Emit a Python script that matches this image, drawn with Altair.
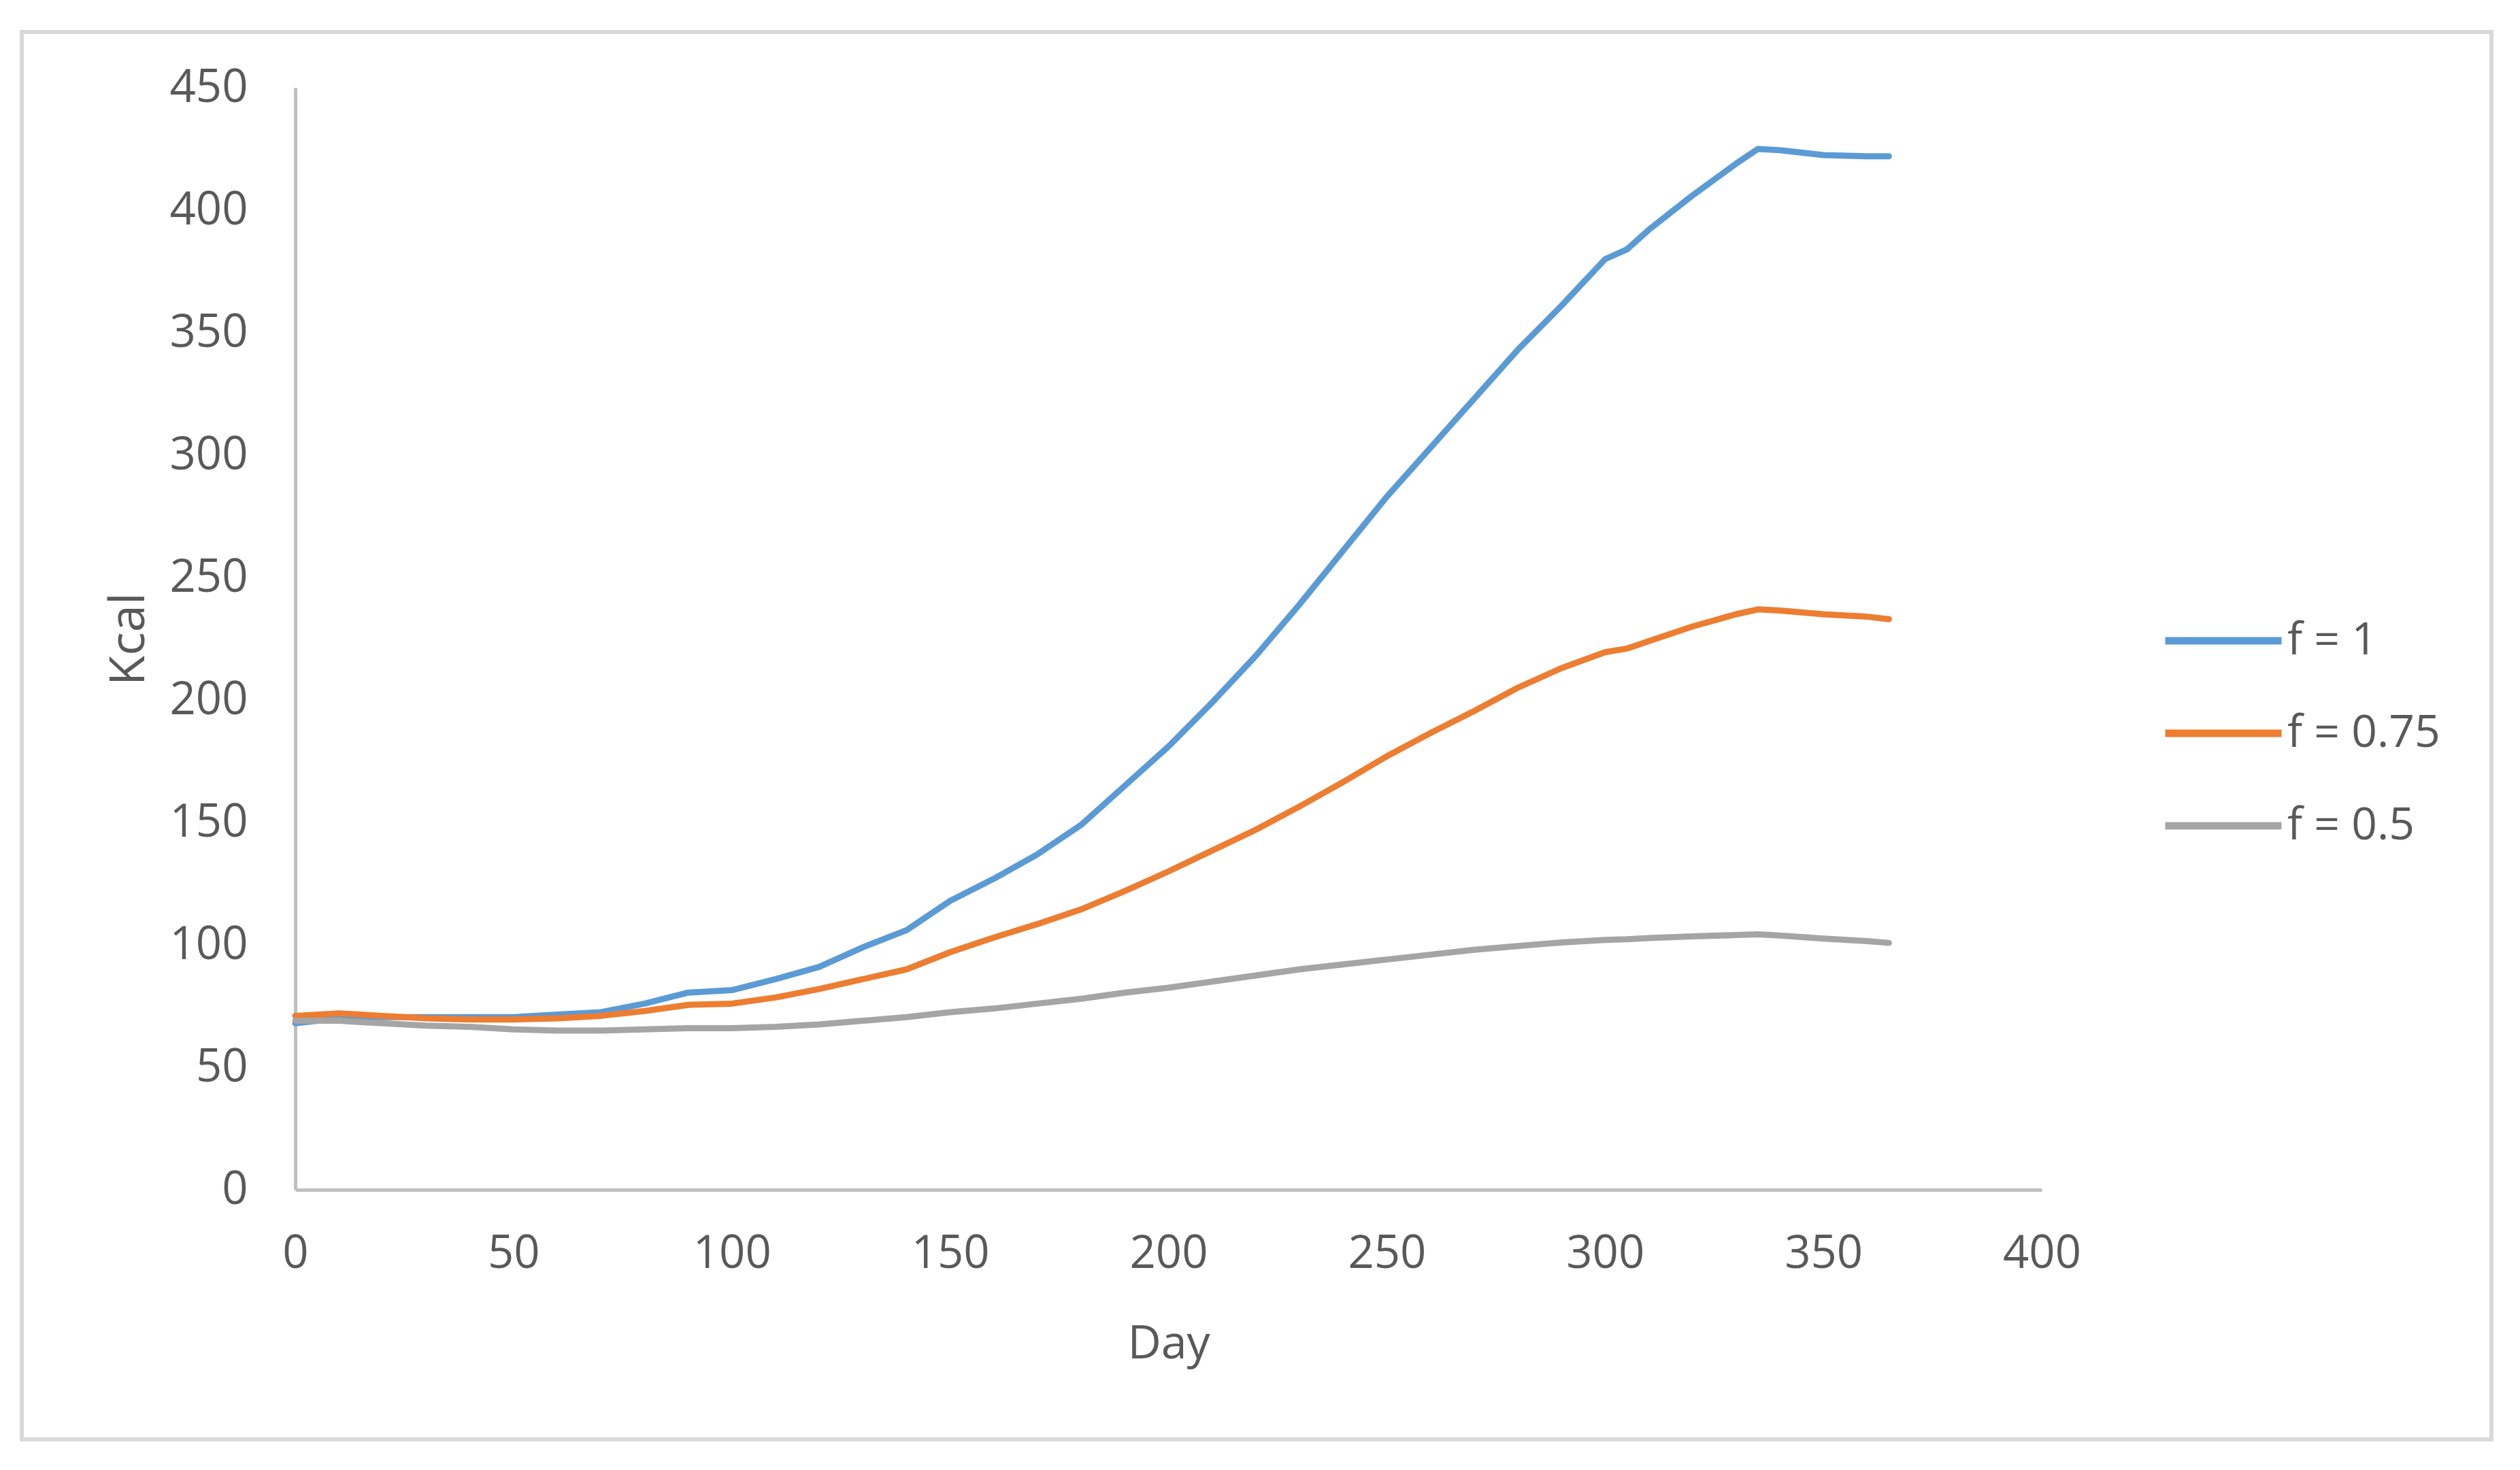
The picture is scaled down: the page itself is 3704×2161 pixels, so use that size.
import altair as alt
import pandas as pd

# ---- data ----
days = [0, 10, 20, 30, 40, 50, 60, 70, 80, 90, 100, 110, 120, 130, 140, 150, 160,
        170, 180, 190, 200, 210, 220, 230, 240, 250, 260, 270, 280, 290, 300, 305,
        310, 320, 330, 335, 340, 350, 360, 365]

f_1 = [68, 70, 70.5, 70.5, 70.5, 70.5, 71.5, 72.5, 76, 80.5, 81.5, 86, 91, 99, 106,
       118, 127, 137, 149, 165, 181, 199, 218, 239, 261, 283, 303, 323, 343, 361,
       380, 384, 392, 406, 419, 425, 424.5, 422.5, 422, 422]

f_075 = [71, 72, 71, 70, 69.5, 69.5, 70, 71, 73, 75.5, 76, 78.5, 82, 86, 90, 97,
         103, 108.5, 114.5, 122, 130, 138.5, 147, 156.5, 166.5, 177, 186.5, 195.5,
         205, 213, 219.5, 221, 224, 230, 235, 237, 236.5, 235, 234, 233]

f_05 = [69, 69, 68, 67, 66.5, 65.5, 65, 65, 65.5, 66, 66, 66.5, 67.5, 69, 70.5,
        72.5, 74, 76, 78, 80.5, 82.5, 85, 87.5, 90, 92, 94, 96, 98, 99.5, 101, 102,
        102.3, 102.8, 103.5, 104, 104.3, 103.8, 102.6, 101.5, 100.8]

series_names = ["f = 1", "f = 0.75", "f = 0.5"]
series_colors = ["#5B9BD5", "#ED7D31", "#A5A5A5"]
x_ticks = [0, 50, 100, 150, 200, 250, 300, 350, 400]
y_ticks = [0, 50, 100, 150, 200, 250, 300, 350, 400, 450]

rows = []
for name, vals in zip(series_names, [f_1, f_075, f_05]):
    for d, v in zip(days, vals):
        rows.append({"day": d, "kcal": v, "series": name})
df = pd.DataFrame(rows)

FONT = "Open Sans"
TXT = "#595959"
W, H = 2567, 1620

frame = alt.Chart(pd.DataFrame({"k": [0]})).mark_rect(
    filled=False, stroke="#D9D9D9", strokeWidth=6
).encode(
    x=alt.value(-402), x2=alt.value(3228), y=alt.value(-82), y2=alt.value(1987)
)

lines = alt.Chart(df).mark_line(strokeWidth=9, strokeCap="round", strokeJoin="round").encode(
    x=alt.X(
        "day:Q",
        scale=alt.Scale(domain=[0, 400], nice=False, zero=False),
        axis=alt.Axis(
            values=x_ticks, title="Day", labelPadding=61, labelFlush=False,
            titleX=W / 2, titleY=247, titleBaseline="alphabetic",
            titleAlign="center", titleFontSize=68,
        ),
    ),
    y=alt.Y(
        "kcal:Q",
        scale=alt.Scale(domain=[0, 450], nice=False),
        axis=alt.Axis(
            values=y_ticks, title="Kcal", labelPadding=70, labelFlush=False,
            titleX=-223, titleY=H / 2, titleAngle=270,
            titleBaseline="alphabetic", titleAlign="center", titleFontSize=72,
        ),
    ),
    color=alt.Color(
        "series:N",
        scale=alt.Scale(domain=series_names, range=series_colors),
        sort=series_names,
        legend=alt.Legend(
            orient="none", legendX=2743, legendY=722, title=None,
            symbolType="stroke", symbolSize=29241, symbolStrokeWidth=11,
            labelFont=FONT, labelFontSize=66, labelColor=TXT, labelOffset=3,
            labelLimit=1000, rowPadding=12, padding=0, offset=0,
        ),
    ),
    order=alt.Order("day:Q"),
)

chart = alt.layer(frame, lines).properties(
    width=W, height=H,
    autosize=alt.AutoSizeParams(type="none"),
    padding={"left": 426, "top": 121, "right": 687, "bottom": 404},
    background="white",
).configure_view(stroke=None).configure_axis(
    domainColor="#BFBFBF", domainWidth=5, ticks=False, tickSize=0, grid=False,
    labelFont=FONT, labelFontSize=67, labelColor=TXT,
    titleFont=FONT, titleColor=TXT, titleFontWeight="normal",
)

chart.save("out.html", embed_options={"renderer": "svg", "actions": False})
